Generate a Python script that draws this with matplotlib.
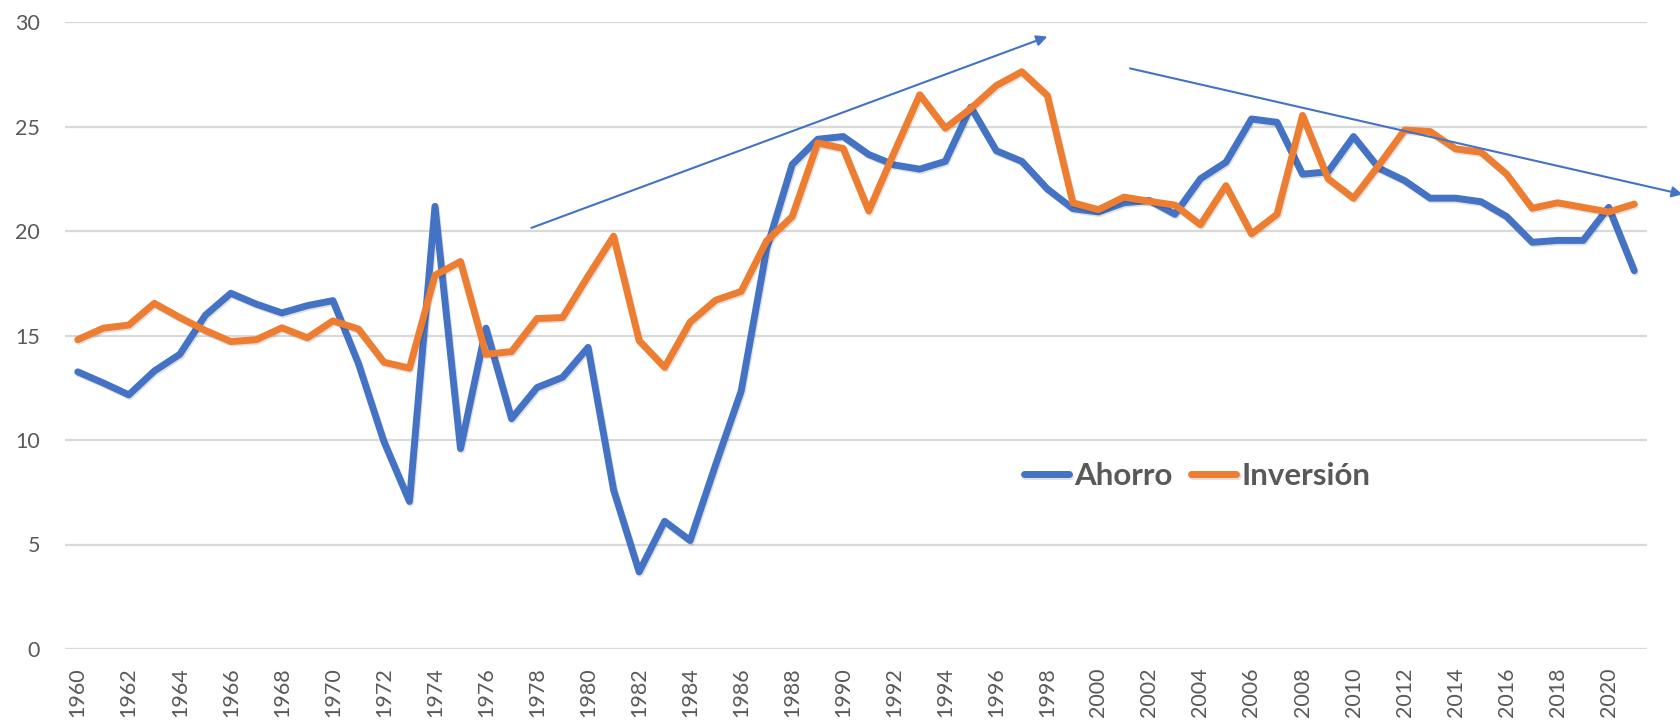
import matplotlib
matplotlib.use("Agg")
import matplotlib.pyplot as plt
import matplotlib.patheffects as pe

years = list(range(1960, 2022))
ahorro = [13.26, 12.73, 12.16, 13.3, 14.1, 15.97, 17.02, 16.5, 16.08, 16.43,
          16.67, 13.66, 9.92, 7.06, 21.18, 9.59, 15.35, 11.02, 12.51, 13.0,
          14.43, 7.61, 3.69, 6.11, 5.19, 8.82, 12.34, 19.16, 23.18, 24.39,
          24.52, 23.66, 23.16, 22.96, 23.33, 25.93, 23.84, 23.33, 22.01, 21.07,
          20.91, 21.35, 21.46, 20.8, 22.5, 23.29, 25.36, 25.2, 22.72, 22.83,
          24.52, 23.0, 22.41, 21.57, 21.57, 21.4, 20.69, 19.46, 19.55, 19.55,
          21.13, 18.1]
inversion = [14.8, 15.35, 15.5, 16.54, 15.86, 15.24, 14.71, 14.8, 15.37, 14.89,
             15.7, 15.31, 13.72, 13.44, 17.88, 18.54, 14.1, 14.23, 15.81, 15.86,
             17.84, 19.75, 14.76, 13.48, 15.64, 16.69, 17.11, 19.53, 20.69, 24.21,
             23.95, 20.96, 23.77, 26.52, 24.92, 25.86, 26.96, 27.62, 26.48, 21.35,
             21.02, 21.62, 21.42, 21.24, 20.3, 22.17, 19.86, 20.8, 25.53, 22.5,
             21.57, 23.16, 24.83, 24.76, 23.93, 23.77, 22.72, 21.09, 21.35, 21.13,
             20.91, 21.29]
tick_years = list(range(1960, 2021, 2))
y_ticks = [0, 5, 10, 15, 20, 25, 30]
arrow_up = ((1977.78, 20.15), (1998.0, 29.3))
arrow_down = ((2001.24, 27.78), (2022.9, 21.75))

BLUE = "#4472C4"
ORANGE = "#ED7D31"
GRAY = "#595959"
GRID = "#D9D9D9"

plt.rcParams['font.family'] = ['Lato', 'DejaVu Sans']

fig = plt.figure(figsize=(16.8, 7.21), dpi=100)
ax = fig.add_axes([65/1680, 1-649/721, (1647-65)/1680, (649-22)/721])

shadow = [pe.SimpleLineShadow(offset=(0.8, -1.2), shadow_color='k', alpha=0.12),
          pe.Normal()]
ax.plot(years, ahorro, color=BLUE, lw=5, solid_capstyle='round',
        solid_joinstyle='round', label='Ahorro', zorder=3, path_effects=shadow)
ax.plot(years, inversion, color=ORANGE, lw=5, solid_capstyle='round',
        solid_joinstyle='round', label='Inversión', zorder=3, path_effects=shadow)

ax.set_xlim(1959.5, 2021.5)
ax.set_ylim(0, 30)
ax.set_yticks(y_ticks)
ax.set_yticklabels([str(v) for v in y_ticks])
ax.set_xticks(tick_years)
ax.set_xticklabels([str(y) for y in tick_years], rotation=90, va='top', ha='center')

ax.grid(axis='y', color=GRID, lw=1.6, zorder=0)
ax.set_axisbelow(True)
for s in ax.spines.values():
    s.set_visible(False)
ax.tick_params(axis='both', length=0, colors=GRAY, labelsize=15.5)
ax.tick_params(axis='y', pad=18)
ax.tick_params(axis='x', pad=13)

for (x0, y0), (x1, y1) in (arrow_up, arrow_down):
    ax.annotate('', xy=(x1, y1), xytext=(x0, y0), xycoords='data',
                annotation_clip=False,
                arrowprops=dict(arrowstyle='-|>', color=BLUE, lw=1.5,
                                mutation_scale=16, shrinkA=0, shrinkB=0))

leg = ax.legend(loc='center', bbox_to_anchor=(0.7156, 0.276), ncol=2,
                frameon=False, handlelength=1.45, handletextpad=0.15,
                columnspacing=0.6, borderpad=0,
                prop={'weight': 'bold', 'size': 22.5})
for t in leg.get_texts():
    t.set_color(GRAY)
for h in leg.get_lines():
    h.set_linewidth(5)
    h.set_solid_capstyle('round')

fig.savefig("out.png", dpi=100)
